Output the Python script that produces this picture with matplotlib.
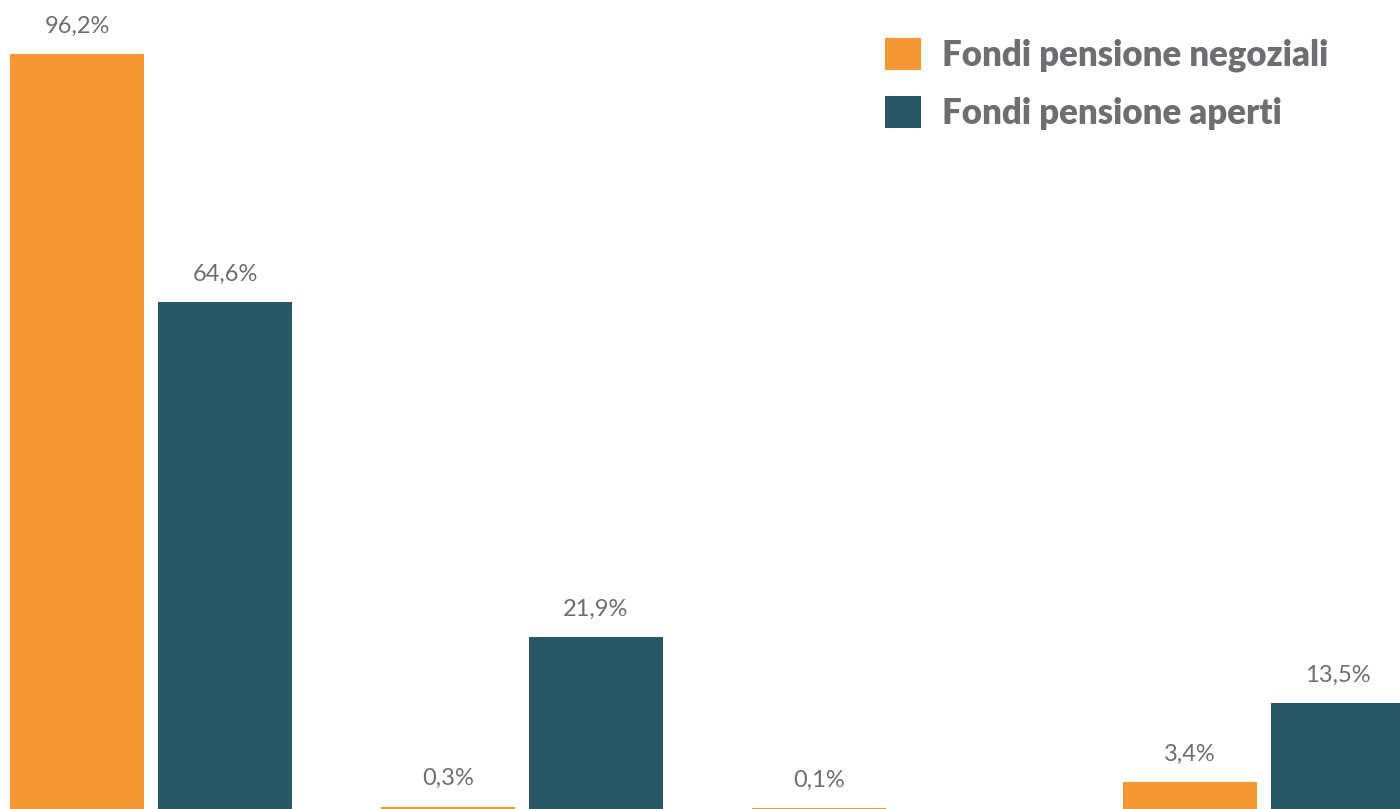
import numpy as np
import matplotlib
matplotlib.use("Agg")
import matplotlib.pyplot as plt

plt.rcParams['font.family'] = ['Lato', 'DejaVu Sans']

groups = ["A", "B", "C", "D"]
negoziali = [96.2, 0.3, 0.1, 3.4]
aperti = [64.6, 21.9, np.nan, 13.5]
series_names = ["Fondi pensione negoziali", "Fondi pensione aperti"]
colors = ["#F79733", "#275863"]
text_col = "#6D6E71"

fig = plt.figure(figsize=(14, 8.09), dpi=100)
ax = fig.add_axes([0, 0, 1, 1])

x = np.arange(len(groups))
w = 134 / 371
off = 74 / 371

for vals, dx, col, name in [(negoziali, -off, colors[0], series_names[0]),
                            (aperti, off, colors[1], series_names[1])]:
    v = np.array(vals, dtype=float)
    ax.bar(x + dx, np.nan_to_num(v), width=w, color=col, label=name)
    for xi, vi in zip(x + dx, v):
        if np.isnan(vi):
            continue
        ax.annotate(f"{vi:.1f}%".replace(".", ","), (xi, vi),
                    xytext=(0, 15.5), textcoords="offset points",
                    ha="center", va="baseline", fontsize=17, color=text_col)

ax.set_xlim(-151 / 371, 1249 / 371)
ax.set_ylim(0, 809 / 7.848)
ax.axis("off")

leg = ax.legend(loc="upper left", bbox_to_anchor=(885 / 1400, 1 - 38 / 809),
                frameon=False, prop={'weight': 'heavy', 'size': 25},
                handlelength=1.04, handleheight=1.04, handletextpad=0.6,
                labelspacing=0.68, borderaxespad=0, borderpad=0)
for t in leg.get_texts():
    t.set_color(text_col)

fig.savefig("out.png", dpi=100)
